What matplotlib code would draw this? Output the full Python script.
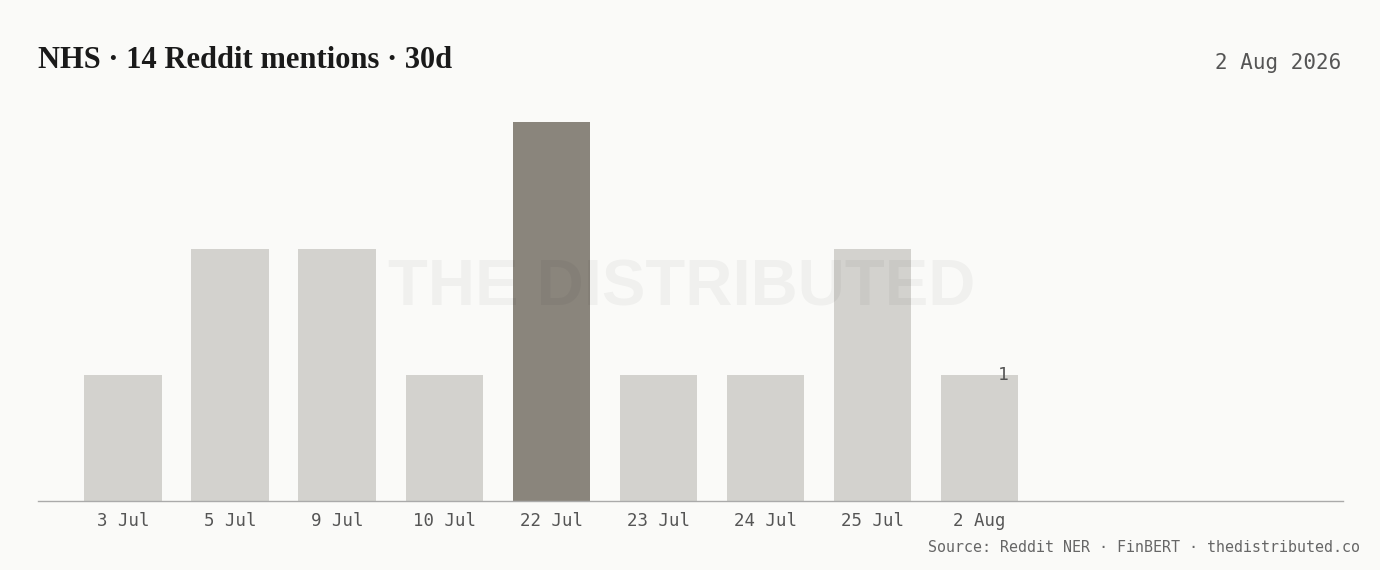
import matplotlib
matplotlib.use("Agg")
import matplotlib.pyplot as plt

categories = ["3 Jul", "5 Jul", "9 Jul", "10 Jul", "22 Jul", "23 Jul", "24 Jul", "25 Jul", "2 Aug"]
mentions = [1, 2, 2, 1, 3, 1, 1, 2, 1]
highlight = "22 Jul"
title = "NHS · 14 Reddit mentions · 30d"
date_label = "2 Aug 2026"
source = "Source: Reddit NER · FinBERT · thedistributed.co"
last_label = "1"

BG = "#FAFAF8"
LIGHT = "#D3D2CE"
DARK = "#8A857C"

fig = plt.figure(figsize=(13.8, 5.7), dpi=100, facecolor=BG)
ax = fig.add_axes([38/1380, 1-501/570, (1343-38)/1380, 404/570])
ax.set_facecolor(BG)

x = list(range(len(categories)))
colors = [DARK if c == highlight else LIGHT for c in categories]
ax.bar(x, mentions, width=0.72, color=colors, zorder=2)

ax.set_xlim(-0.794, 11.40)
ax.set_ylim(0, 3.2)
ax.set_xticks(x)
ax.set_xticklabels(categories, family="DejaVu Sans Mono", fontsize=12.5, color="#555555")
ax.tick_params(axis="x", length=0, pad=8)
ax.set_yticks([])
for s in ["top", "right", "left"]:
    ax.spines[s].set_visible(False)
ax.spines["bottom"].set_color("#AAAAAA")
ax.spines["bottom"].set_linewidth(1.0)

ax.text(x[-1] + 0.23, mentions[-1], last_label, ha="center", va="center",
        family="DejaVu Sans Mono", fontsize=13, color="#555555", zorder=4)

# watermark
ax.text(0.493, 0.527, "THE DISTRIBUTED", transform=ax.transAxes, ha="center", va="center",
        family="Liberation Sans", fontweight="bold", fontsize=47, color="black", alpha=0.04, zorder=3)

fig.text(38/1380, 1-61/570, title, ha="left", va="center", family="Liberation Serif",
         fontweight="bold", fontsize=22, color="#1A1A1A")
fig.text(1341/1380, 1-63/570, date_label, ha="right", va="center", family="DejaVu Sans Mono",
         fontsize=15, color="#555555")
fig.text(1360/1380, 1-547/570, source, ha="right", va="center", family="DejaVu Sans Mono",
         fontsize=10.8, color="#666666")

fig.savefig("out.png", dpi=100, facecolor=BG)
